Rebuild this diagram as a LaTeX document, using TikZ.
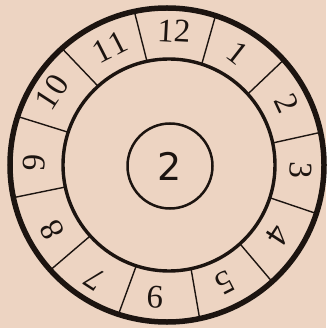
\documentclass[tikz,border=0pt]{standalone}
\usepackage{fontspec}
\setmainfont{Liberation Serif}
\newfontfamily\hubfont{DejaVu Sans}
\definecolor{paper}{RGB}{237,212,194}
\definecolor{ink}{RGB}{28,20,16}
\begin{document}
\begin{tikzpicture}[x=1pt,y=1pt,
  ring/.style={circle,draw=ink,inner sep=0pt,outer sep=0pt},
  divider/.style={draw=ink,line width=1.4pt},
  num/.style={text=ink,font=\fontsize{33}{36}\selectfont,inner sep=0pt}]
\fill[paper] (0,0) rectangle (326,-328);
\useasboundingbox (0,0) rectangle (326,-328);
\node[ring,line width=5.5pt,minimum size=314pt] (outer) at (167,-165) {};
\node[ring,line width=3.4pt,minimum size=212pt] (inner) at (169,-165) {};
\node[ring,line width=2.5pt,minimum size=85pt,text=ink,font=\hubfont\fontsize{38}{42}\selectfont] (hub) at (170,-166) {2};
\foreach \a in {12,42,...,342}
  \draw[divider] (inner.\a) -- (outer.\a);
\foreach \n/\x/\y/\r in {12/174/31/-3, 1/238/53/-38, 2/287/103/-65, 3/301/170/-93,
  4/278/235/-123, 5/225/283/-153, 6/155/297/-3, 7/95/279/147, 8/52/230/117,
  9/34/163/87}
  \node[num,rotate=\r] (n\n) at (\x,-\y) {\n};
\node[num,rotate=57] (n10) at (52,-92) {1\kern1.5pt0};
\node[num,rotate=27] (n11) at (110,-47) {1\kern1.5pt1};
\end{tikzpicture}
\end{document}
